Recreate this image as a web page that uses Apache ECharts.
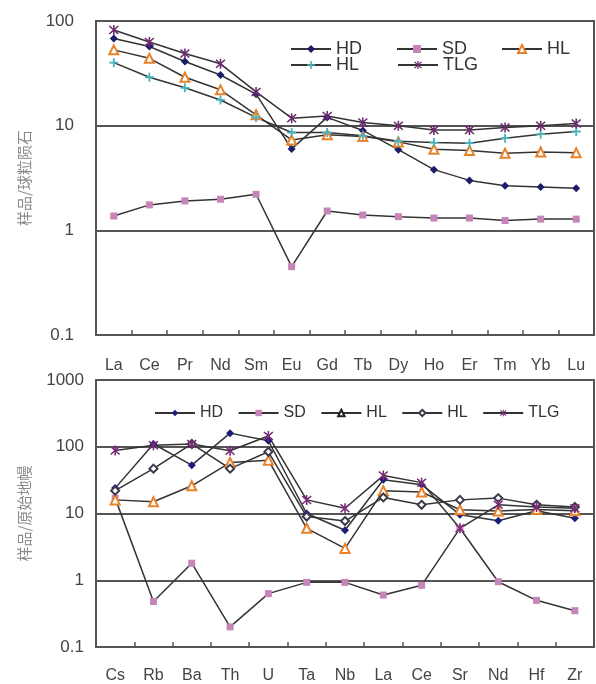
<!DOCTYPE html>
<html>
<head>
<meta charset="utf-8">
<script src="https://cdn.jsdelivr.net/npm/echarts@6/dist/echarts.min.js"></script>
<style>
html,body{margin:0;padding:0;background:#fff;}
#c{width:596px;height:684px;}
</style>
</head>
<body>
<div id="c"></div>
<script>
// ---- Data: REE (chondrite normalised) ----
const reeCats = ['La','Ce','Pr','Nd','Sm','Eu','Gd','Tb','Dy','Ho','Er','Tm','Yb','Lu'];
const reeHD  = [68, 57, 41, 30.5, 20, 6.0, 12, 9, 5.9, 3.8, 3.0, 2.67, 2.6, 2.52];
const reeSD  = [1.37, 1.75, 1.91, 1.98, 2.21, 0.45, 1.53, 1.40, 1.35, 1.31, 1.31, 1.24, 1.28, 1.28];
const reeHL1 = [53, 44, 29, 22, 12.7, 7.3, 8.2, 7.9, 7.0, 5.95, 5.8, 5.45, 5.6, 5.5];
const reeHL2 = [40, 29, 23, 17.6, 12, 8.6, 8.6, 8.0, 7.1, 6.9, 6.8, 7.6, 8.3, 8.8];
const reeTLG = [82, 63, 49, 39, 21, 11.8, 12.4, 10.7, 10, 9.1, 9.1, 9.6, 10, 10.5];

// ---- Data: spider (primitive mantle normalised) ----
const spCats = ['Cs','Rb','Ba','Th','U','Ta','Nb','La','Ce','Sr','Nd','Hf','Zr'];
const spHD  = [24, 110, 53, 160, 123, 10, 5.6, 32, 27, 9.6, 7.8, 11, 8.5];
const spSD  = [17, 0.48, 1.8, 0.2, 0.63, 0.93, 0.93, 0.6, 0.84, 6, 0.95, 0.5, 0.35];
const spHL1 = [16, 15, 26, 58, 63, 6, 3, 22, 21, 11.4, 10.9, 11.5, 11];
const spHL2 = [22, 47, 110, 47, 84, 9, 7.7, 17.4, 13.5, 16, 17, 13.5, 12.5];
const spTLG = [88, 105, 110, 87, 145, 16, 12, 37, 29, 6, 13.5, 12.5, 12];

const reeTicks = [0.1, 1, 10, 100];
const spTicks = [0.1, 1, 10, 100, 1000];

const FONT = 'Liberation Sans, Arial, sans-serif';
const PLUS = 'path://M4,0H6V4H10V6H6V10H4V6H0V4H4Z';
const STAR = 'path://M4.3,0H5.7V10H4.3Z M0.5,1.5L1.5,0.5L9.5,8.5L8.5,9.5Z M8.5,0.5L9.5,1.5L1.5,9.5L0.5,8.5Z';

const styles = {
  HD:  {symbol:'diamond', symbolSize:8, itemStyle:{color:'#1c1c6a'}},
  SD:  {symbol:'rect', symbolSize:7, itemStyle:{color:'#c585b8'}},
  HL1: {symbol:'emptyTriangle', symbolSize:9, itemStyle:{color:'#e8822a', borderWidth:1.5}},
  HL2: {symbol:PLUS, symbolSize:9, itemStyle:{color:'#48b4bf'}},
  TLG: {symbol:STAR, symbolSize:10, itemStyle:{color:'#6e2a6e'}}
};
const stylesSp = {
  HD:  {symbol:'diamond', symbolSize:8, itemStyle:{color:'#1c1c7a'}},
  SD:  {symbol:'rect', symbolSize:7, itemStyle:{color:'#c585b8'}},
  HL1: {symbol:'emptyTriangle', symbolSize:9, itemStyle:{color:'#e8822a', borderWidth:1.5}},
  HL2: {symbol:'emptyDiamond', symbolSize:8, itemStyle:{color:'#3a3a4a', borderWidth:1.5}},
  TLG: {symbol:STAR, symbolSize:10, itemStyle:{color:'#7a2a78'}}
};

function mk(name, data, st, axisIdx, legendName){
  return Object.assign({
    type:'line', name: legendName, data: data,
    xAxisIndex: axisIdx, yAxisIndex: axisIdx,
    showAllSymbol: true,
    lineStyle:{color:'#333', width:1.5},
    emphasis:{disabled:true},
    animation:false
  }, JSON.parse(JSON.stringify(st)));
}

const names = ['HD','SD','HL1','HL2','TLG'];
const reeData = [reeHD, reeSD, reeHL1, reeHL2, reeTLG];
const spData  = [spHD, spSD, spHL1, spHL2, spTLG];

const series = [];
names.forEach((n,i)=>{ series.push(mk(n, reeData[i], styles[n], 0, 'a'+n)); });
names.forEach((n,i)=>{ series.push(mk(n, spData[i], stylesSp[n], 1, 'b'+n)); });

const fmt = n => n.slice(1).replace(/\d$/,'');

function yAx(gi, max, margin, name){
  return {
    type:'log', logBase:10, min:0.1, max:max, gridIndex:gi,
    name:name, nameLocation:'middle', nameRotate:90, nameGap:64,
    nameTextStyle:{fontFamily:'Noto Sans CJK SC', fontSize:15, color:'#8a8a8a'},
    axisLine:{show:true, lineStyle:{color:'#555', width:2}},
    axisTick:{show:false},
    minorTick:{show:false},
    axisLabel:{fontFamily:FONT, fontSize:17, color:'#444', margin:margin,
      formatter: v => { const t = (gi===0?reeTicks:spTicks).find(x=>Math.abs(x-v)/x<1e-6); return t===undefined? '' : String(t); }},
    splitLine:{show:true, lineStyle:{color:'#555', width:2}}
  };
}
function xAx(gi, cats, margin){
  return {
    type:'category', data:cats, gridIndex:gi, boundaryGap:true,
    axisLine:{show:true, onZero:false, lineStyle:{color:'#555', width:2}},
    axisTick:{show:true, inside:true, length:5, lineStyle:{color:'#555', width:1.5}},
    axisLabel:{fontFamily:FONT, fontSize:16, color:'#444', margin:margin, interval:0},
    splitLine:{show:false}
  };
}

const option = {
  backgroundColor:'#fff',
  animation:false,
  grid:[
    {left:96, right:2, top:21, height:314, show:true, borderColor:'#555', borderWidth:2, containLabel:false},
    {left:96, right:2, top:380, height:271, show:true, borderColor:'#555', borderWidth:2, containLabel:false}
  ],
  xAxis:[xAx(0, reeCats, 23), xAx(1, spCats, 21)],
  yAxis:[yAx(0, 100, 22, '样品/球粒陨石'), yAx(1, 1000, 12, '样品/原始地幔')],
  legend:[
    {data:['aHD','aSD','aHL1'], left:285, top:35, itemWidth:40, itemHeight:10, itemGap:34,
     formatter:fmt, selectedMode:false, textStyle:{fontFamily:FONT, fontSize:18, color:'#333'}},
    {data:['aHL2','aTLG'], left:285, top:51, itemWidth:40, itemHeight:10, itemGap:38,
     formatter:fmt, selectedMode:false, textStyle:{fontFamily:FONT, fontSize:18, color:'#333'}},
    {data:['bHD','bSD',{name:'bHL1', itemStyle:{color:'#222'}},'bHL2','bTLG'],
     left:149, top:400, itemWidth:40, itemHeight:8, itemGap:14.5,
     formatter:fmt, selectedMode:false, textStyle:{fontFamily:FONT, fontSize:16, color:'#333'}}
  ],
  series: series
};

const chart = echarts.init(document.getElementById('c'), null, {renderer:'canvas'});
chart.setOption(option);
</script>
</body>
</html>
